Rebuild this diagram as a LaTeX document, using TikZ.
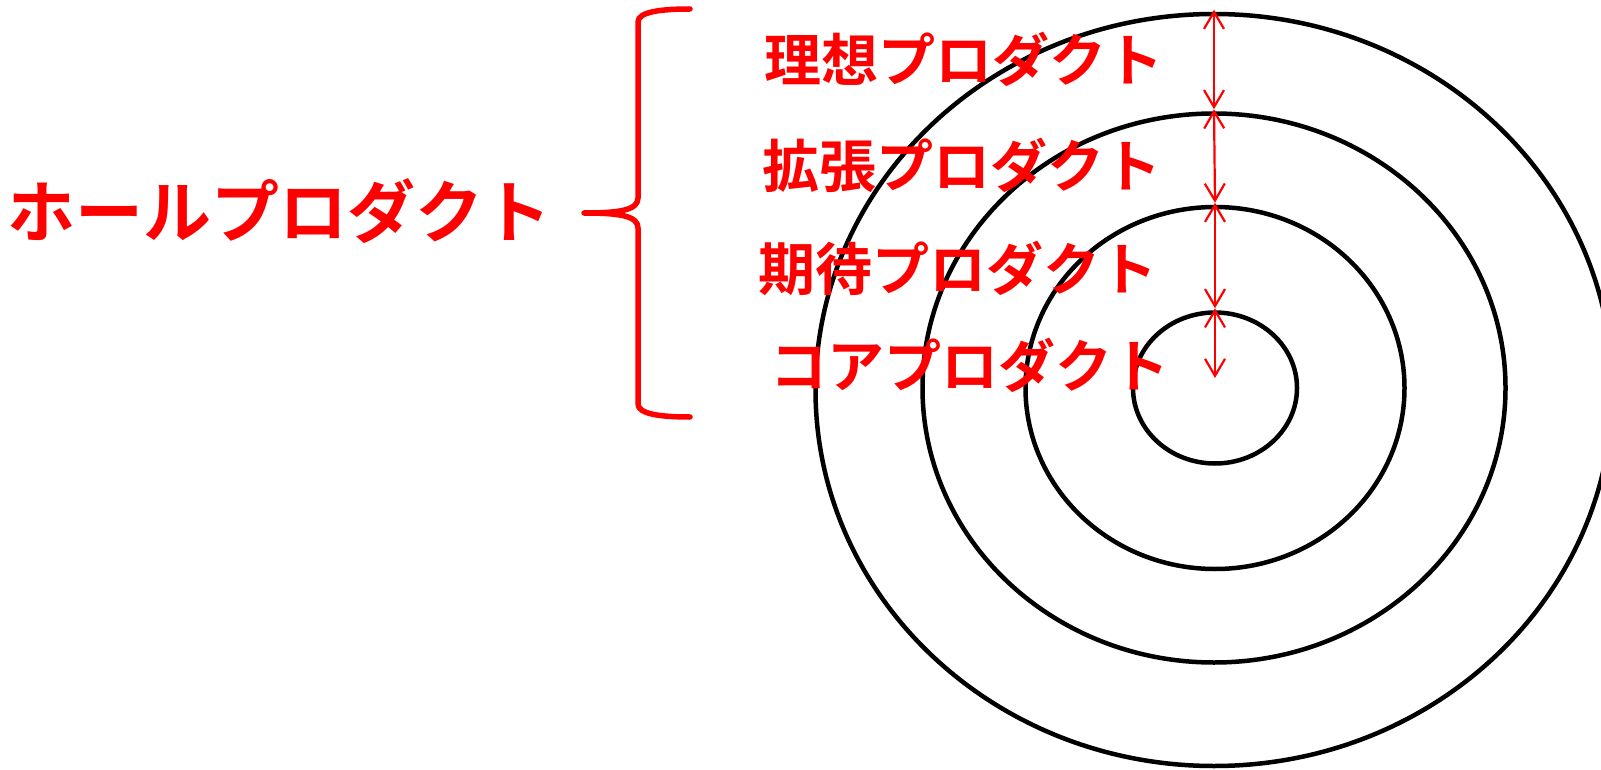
\documentclass[tikz,border=0pt]{standalone}
\usepackage{fontspec}
\newfontfamily\jpfont{Noto Sans CJK JP}[BoldFont={* Bold}]
\usetikzlibrary{arrows.meta,shapes.geometric}
\definecolor{pred}{RGB}{255,0,0}
\begin{document}
\begin{tikzpicture}[x=1pt,y=-1pt,
  ring/.style={ellipse,draw=black,line width=4.5pt,inner sep=0pt,minimum width=#1},
  lab/.style={text=pred,font=\jpfont\bfseries\fontsize{57}{60}\selectfont,inner sep=0pt},
  arr/.style={draw=pred,line width=2.2pt,{Straight Barb[length=17pt,width=20pt,line width=2.2pt]}-{Straight Barb[length=17pt,width=20pt,line width=2.2pt]}},
  brace/.style={draw=pred,line width=5.5pt,line cap=round,line join=round}]
\useasboundingbox (0,0) rectangle (1601,770);
\begin{scope}
\clip (0,0) rectangle (1601,770);
\node[ring=797pt,minimum height=752pt] (e1) at (1214,390) {};
\node[ring=583pt,minimum height=549pt] (e2) at (1214,388) {};
\node[ring=379pt,minimum height=362pt] (e3) at (1215,388) {};
\node[ring=164pt,minimum height=151pt] (e4) at (1215,388) {};
\end{scope}
\coordinate (tipend) at (1215,378);
\draw[arr] ([yshift=2pt]e1.north) -- ([yshift=2pt]e2.north);
\draw[arr] ([yshift=2pt]e2.north) -- ([yshift=2pt]e3.north);
\draw[arr] ([yshift=2pt]e3.north) -- ([yshift=2pt]e4.north);
\draw[arr] ([yshift=2pt]e4.north) -- (tipend);
\node[lab] (l1) at (964,59) {理想プロダクト};
\node[lab] (l2) at (962,165) {拡張プロダクト};
\node[lab] (l3) at (958,268) {期待プロダクト};
\node[lab] (l4) at (970,365) {コアプロダクト};
\node[lab,font=\jpfont\bfseries\fontsize{68}{70}\selectfont] (whole) at (280,211) {ホールプロダクト};
\coordinate (btop) at (690,9);
\coordinate (bbot) at (690,417);
\coordinate (btip) at (584,213);
\draw[brace] (btop) .. controls (660,9) and (638,12) .. (638,22) -- (638,198)
  .. controls (638,210) and (620,213) .. (btip)
  .. controls (620,213) and (638,216) .. (638,228) -- (638,404)
  .. controls (638,414) and (660,417) .. (bbot);
\end{tikzpicture}
\end{document}
